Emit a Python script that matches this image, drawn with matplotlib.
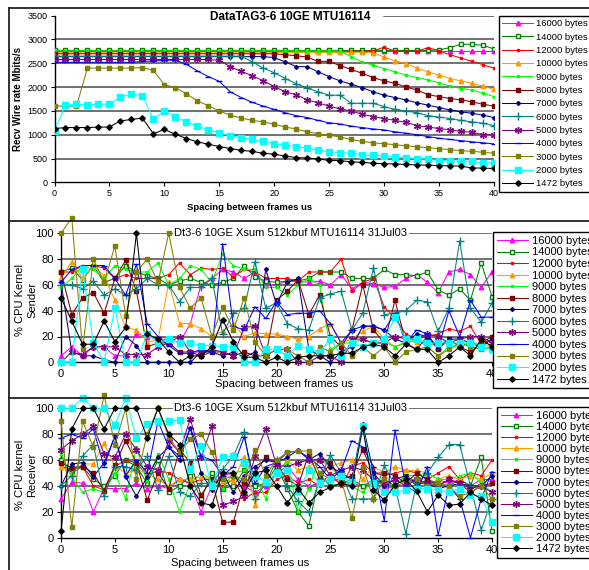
import matplotlib
matplotlib.use("Agg")
import matplotlib.pyplot as plt
from matplotlib.lines import Line2D

plt.rcParams['font.family'] = ['Liberation Sans', 'DejaVu Sans']

#___Data___#
spacing = list(range(41))
labels = ["16000 bytes", "14000 bytes", "12000 bytes", "10000 bytes", "9000 bytes", "8000 bytes",
          "7000 bytes", "6000 bytes", "5000 bytes", "4000 bytes", "3000 bytes", "2000 bytes", "1472 bytes"]

# Recv wire rate Mbit/s
rate_16000 = [2760, 2760, 2760, 2760, 2760, 2760, 2760, 2760, 2760, 2760,
              2760, 2760, 2760, 2760, 2760, 2760, 2760, 2760, 2760, 2760,
              2760, 2760, 2760, 2760, 2760, 2760, 2760, 2760, 2760, 2760,
              2760, 2760, 2760, 2760, 2760, 2760, 2760, 2760, 2760, 2760, 2760]
rate_14000 = [2770, 2770, 2770, 2770, 2770, 2770, 2770, 2770, 2770, 2770,
              2770, 2770, 2770, 2770, 2770, 2770, 2770, 2770, 2770, 2770,
              2770, 2770, 2770, 2770, 2770, 2770, 2770, 2770, 2770, 2770,
              2770, 2770, 2770, 2770, 2770, 2780, 2830, 2900, 2900, 2880, 2800]
rate_12000 = [2750, 2750, 2750, 2750, 2750, 2750, 2750, 2750, 2750, 2750,
              2750, 2750, 2750, 2750, 2750, 2750, 2750, 2750, 2750, 2750,
              2750, 2750, 2750, 2750, 2750, 2750, 2750, 2750, 2750, 2760,
              2840, 2750, 2750, 2750, 2830, 2760, 2680, 2610, 2540, 2470, 2400]
rate_10000 = [2730, 2730, 2730, 2730, 2730, 2730, 2730, 2730, 2730, 2730,
              2730, 2730, 2730, 2730, 2730, 2730, 2730, 2730, 2730, 2730,
              2730, 2730, 2730, 2730, 2730, 2730, 2730, 2730, 2730, 2720,
              2630, 2550, 2490, 2400, 2320, 2250, 2180, 2130, 2080, 2020, 1950]
rate_9000 = [2760, 2760, 2760, 2760, 2760, 2760, 2760, 2760, 2760, 2760,
             2760, 2760, 2760, 2760, 2760, 2760, 2760, 2760, 2760, 2760,
             2760, 2760, 2760, 2760, 2760, 2760, 2760, 2640, 2530, 2460,
             2390, 2320, 2250, 2200, 2150, 2090, 2020, 1970, 1940, 1870, 1800]
rate_8000 = [2700, 2700, 2700, 2700, 2700, 2700, 2700, 2700, 2700, 2700,
             2700, 2700, 2700, 2700, 2700, 2700, 2700, 2700, 2700, 2700,
             2700, 2680, 2660, 2630, 2540, 2540, 2450, 2370, 2290, 2200,
             2130, 2080, 2000, 1940, 1840, 1800, 1760, 1730, 1690, 1640, 1600]
rate_7000 = [2640, 2640, 2640, 2640, 2640, 2640, 2640, 2640, 2640, 2640,
             2640, 2640, 2640, 2640, 2640, 2640, 2640, 2640, 2640, 2640,
             2620, 2530, 2430, 2430, 2320, 2220, 2130, 2060, 1990, 1900,
             1830, 1780, 1730, 1670, 1620, 1570, 1520, 1480, 1450, 1410, 1360]
rate_6000 = [2650, 2650, 2650, 2650, 2650, 2650, 2650, 2650, 2650, 2650,
             2650, 2650, 2650, 2650, 2650, 2650, 2650, 2650, 2530, 2400,
             2300, 2180, 2070, 1980, 1900, 1830, 1830, 1660, 1660, 1660,
             1590, 1530, 1500, 1460, 1400, 1370, 1340, 1300, 1270, 1240, 1190]
rate_5000 = [2580, 2580, 2580, 2580, 2580, 2580, 2580, 2580, 2580, 2580,
             2580, 2580, 2580, 2580, 2580, 2560, 2430, 2330, 2240, 2130,
             2010, 1900, 1840, 1730, 1670, 1600, 1540, 1500, 1430, 1380,
             1340, 1300, 1260, 1190, 1160, 1130, 1100, 1070, 1050, 1000, 995]
rate_4000 = [2520, 2520, 2520, 2520, 2520, 2520, 2520, 2520, 2540, 2550,
             2560, 2570, 2480, 2340, 2220, 2120, 1900, 1780, 1680, 1600,
             1530, 1460, 1400, 1360, 1300, 1250, 1225, 1180, 1150, 1120,
             1100, 1060, 1030, 1000, 960, 925, 900, 875, 850, 830, 805]
rate_3000 = [1600, 1600, 1600, 2400, 2400, 2400, 2400, 2400, 2410, 2350,
             2050, 1990, 1860, 1710, 1610, 1500, 1410, 1350, 1300, 1270,
             1220, 1160, 1120, 1060, 1020, 990, 950, 900, 860, 830,
             810, 790, 765, 745, 725, 705, 685, 665, 650, 630, 610]
rate_2000 = [1080, 1620, 1640, 1620, 1640, 1640, 1800, 1850, 1820, 1320,
             1500, 1370, 1270, 1180, 1100, 1040, 980, 940, 900, 860,
             810, 780, 750, 720, 680, 640, 625, 610, 580, 565,
             550, 540, 515, 500, 490, 455, 450, 445, 440, 410, 405]
rate_1472 = [1130, 1150, 1150, 1150, 1160, 1160, 1290, 1320, 1350, 1020,
             1110, 1010, 920, 850, 800, 750, 710, 670, 650, 610,
             590, 550, 520, 510, 490, 460, 455, 430, 420, 400,
             390, 385, 375, 365, 360, 350, 345, 340, 300, 300, 290]

# % CPU kernel, sender
send_16000 = [5, 12, 5, 12, 12, 5, 5, 22, 20, 18, 18, 15, 30, 60, 65, 72, 70, 65, 70, 60, 60,
              63, 63, 62, 63, 60, 68, 57, 62, 61, 58, 59, 65, 68, 62, 54, 70, 72, 68, 58, 70]
send_14000 = [70, 73, 64, 75, 62, 65, 75, 70, 67, 65, 60, 63, 65, 62, 60, 62, 65, 75, 66, 63, 62,
              63, 63, 65, 70, 70, 70, 65, 65, 65, 72, 68, 68, 67, 70, 56, 52, 57, 48, 77, 51]
send_12000 = [70, 70, 75, 75, 73, 65, 68, 65, 65, 65, 68, 77, 68, 73, 72, 73, 66, 72, 70, 65, 65,
              65, 63, 70, 70, 70, 80, 55, 62, 65, 43, 34, 22, 18, 20, 22, 26, 24, 28, 14, 18]
send_10000 = [65, 78, 65, 75, 67, 48, 27, 25, 16, 17, 62, 30, 30, 26, 20, 24, 30, 20, 23, 22, 22,
              20, 18, 20, 26, 30, 15, 18, 24, 28, 18, 12, 16, 16, 15, 12, 16, 14, 15, 14, 12]
send_9000 = [58, 65, 75, 72, 65, 75, 72, 70, 70, 77, 60, 65, 75, 72, 62, 84, 75, 72, 72, 58, 58,
             52, 60, 65, 60, 10, 15, 15, 18, 14, 16, 12, 15, 18, 12, 5, 12, 12, 15, 12, 10]
send_8000 = [70, 37, 50, 54, 38, 65, 79, 55, 12, 15, 15, 8, 8, 5, 8, 8, 5, 8, 5, 5, 48,
             55, 64, 37, 52, 20, 12, 25, 60, 25, 15, 48, 15, 10, 20, 10, 18, 12, 8, 15, 20]
send_7000 = [62, 8, 5, 5, 2, 0, 20, 13, 0, 0, 0, 0, 0, 8, 8, 5, 8, 4, 8, 72, 45,
             62, 65, 10, 5, 0, 8, 12, 28, 28, 25, 18, 15, 22, 20, 12, 18, 18, 15, 12, 18]
send_6000 = [60, 60, 57, 63, 52, 57, 52, 57, 65, 60, 60, 47, 58, 58, 65, 22, 38, 42, 78, 42, 46,
             30, 26, 25, 50, 53, 55, 25, 38, 73, 37, 38, 40, 48, 47, 24, 42, 94, 42, 31, 46]
send_5000 = [0, 8, 6, 12, 12, 12, 6, 6, 6, 12, 15, 20, 8, 8, 10, 8, 5, 27, 28, 5, 10,
             10, 0, 0, 5, 5, 0, 18, 18, 15, 15, 20, 18, 18, 22, 20, 15, 18, 20, 20, 15]
send_4000 = [62, 72, 75, 75, 75, 65, 52, 76, 30, 20, 13, 7, 7, 10, 8, 92, 28, 25, 43, 34, 47,
             37, 38, 38, 40, 30, 15, 25, 28, 28, 25, 38, 15, 25, 22, 10, 40, 20, 48, 35, 35]
send_3000 = [100, 112, 10, 80, 62, 90, 36, 70, 80, 62, 100, 58, 42, 50, 20, 43, 25, 50, 16, 5, 10,
             10, 5, 0, 12, 8, 15, 5, 12, 5, 12, 0, 8, 10, 12, 5, 10, 15, 12, 10, 12]
send_2000 = [0, 0, 72, 15, 0, 42, 0, 0, 22, 15, 18, 15, 15, 13, 13, 12, 12, 0, 0, 10, 10,
             5, 13, 10, 8, 18, 5, 15, 12, 15, 18, 35, 18, 18, 15, 15, 15, 15, 15, 12, 10]
send_1472 = [50, 32, 14, 14, 32, 16, 27, 100, 22, 18, 8, 0, 5, 5, 12, 33, 16, 4, 4, 0, 4,
             0, 4, 5, 5, 5, 7, 7, 12, 14, 12, 5, 14, 10, 10, 0, 5, 12, 5, 18, 12]

# % CPU kernel, receiver
recv_16000 = [30, 43, 42, 20, 38, 38, 38, 42, 38, 40, 38, 45, 42, 20, 40, 48, 50, 40, 35, 40, 50,
              55, 45, 40, 42, 45, 43, 42, 40, 45, 40, 38, 42, 45, 40, 45, 42, 45, 40, 45, 45]
recv_14000 = [60, 50, 55, 45, 40, 48, 60, 55, 42, 60, 35, 40, 48, 30, 50, 38, 40, 52, 40, 42, 55,
              38, 20, 9, 48, 40, 42, 45, 40, 42, 45, 40, 48, 40, 45, 42, 40, 45, 40, 62, 5]
recv_12000 = [55, 53, 55, 40, 37, 55, 60, 58, 48, 52, 50, 45, 42, 45, 45, 40, 45, 30, 35, 35, 45,
              48, 42, 45, 40, 50, 40, 55, 58, 50, 48, 50, 52, 50, 45, 50, 55, 45, 50, 48, 60]
recv_10000 = [55, 50, 57, 57, 73, 55, 50, 52, 50, 45, 40, 45, 45, 47, 45, 44, 44, 62, 25, 48, 50,
              60, 52, 55, 60, 55, 58, 60, 45, 55, 50, 55, 52, 52, 50, 45, 48, 45, 48, 45, 50]
recv_9000 = [65, 47, 35, 38, 35, 50, 30, 70, 43, 65, 45, 20, 42, 50, 45, 38, 50, 52, 48, 30, 52,
             58, 20, 38, 62, 55, 45, 40, 35, 45, 42, 40, 48, 48, 50, 45, 45, 48, 50, 42, 35]
recv_8000 = [58, 54, 55, 50, 36, 56, 75, 58, 29, 50, 38, 68, 58, 33, 45, 12, 12, 42, 50, 62, 58,
             45, 40, 65, 45, 58, 45, 48, 68, 50, 50, 48, 42, 50, 45, 40, 45, 42, 35, 40, 42]
recv_7000 = [40, 57, 58, 47, 58, 78, 47, 32, 47, 62, 70, 60, 85, 50, 37, 50, 35, 48, 55, 60, 58,
             62, 68, 60, 65, 55, 50, 45, 88, 50, 40, 45, 48, 42, 42, 38, 40, 42, 40, 40, 48]
recv_6000 = [40, 48, 63, 72, 32, 55, 55, 52, 63, 37, 63, 35, 32, 42, 42, 53, 63, 82, 30, 42, 60,
             40, 28, 20, 45, 64, 50, 30, 30, 30, 56, 40, 3, 42, 50, 62, 72, 72, 40, 6, 30]
recv_5000 = [68, 75, 80, 86, 65, 62, 80, 68, 55, 52, 75, 66, 92, 62, 86, 25, 28, 32, 63, 84, 56,
             55, 58, 60, 60, 48, 52, 55, 52, 45, 42, 45, 40, 45, 42, 40, 45, 42, 38, 40, 35]
recv_4000 = [77, 80, 77, 84, 55, 79, 48, 60, 50, 90, 70, 63, 85, 63, 60, 48, 55, 78, 42, 55, 58,
             66, 67, 62, 55, 45, 52, 75, 70, 55, 13, 83, 40, 35, 55, 2, 40, 30, 0, 30, 51]
recv_3000 = [90, 8, 90, 70, 110, 72, 100, 45, 80, 100, 78, 66, 76, 80, 66, 45, 48, 45, 68, 48, 60,
             66, 67, 67, 50, 45, 45, 15, 55, 30, 45, 38, 45, 45, 40, 42, 40, 32, 35, 40, 30]
recv_2000 = [100, 100, 108, 100, 100, 87, 108, 77, 88, 90, 90, 91, 53, 71, 40, 62, 63, 58, 48, 43, 50,
             52, 36, 52, 42, 45, 48, 43, 86, 42, 35, 35, 37, 38, 38, 37, 35, 38, 33, 32, 12]
recv_1472 = [5, 84, 100, 100, 84, 100, 100, 100, 77, 100, 80, 72, 40, 27, 25, 50, 50, 35, 50, 52, 40,
             27, 38, 27, 35, 39, 42, 40, 85, 37, 29, 41, 45, 36, 20, 33, 25, 26, 35, 30, 25]

rate_series = [rate_16000, rate_14000, rate_12000, rate_10000, rate_9000, rate_8000, rate_7000,
               rate_6000, rate_5000, rate_4000, rate_3000, rate_2000, rate_1472]
send_series = [send_16000, send_14000, send_12000, send_10000, send_9000, send_8000, send_7000,
               send_6000, send_5000, send_4000, send_3000, send_2000, send_1472]
recv_series = [recv_16000, recv_14000, recv_12000, recv_10000, recv_9000, recv_8000, recv_7000,
               recv_6000, recv_5000, recv_4000, recv_3000, recv_2000, recv_1472]

#___Styles___#
# (colour, marker, size, face)
styles = [("#FF00FF", "^", 3.2, None),
          ("#008000", "s", 2.8, "white"),
          ("#FF0000", "s", 2.0, None),
          ("#FF9900", "^", 3.2, None),
          ("#00FF00", "s", 2.0, None),
          ("#800000", "s", 3.2, None),
          ("#000080", "D", 2.0, None),
          ("#008080", "+", 6, None),
          ("#800080", (6, 2, 0), 5, None),
          ("#0000FF", "_", 4, None),
          ("#808000", "s", 2.8, None),
          ("#00FFFF", "s", 4.2, None),
          ("#000000", "D", 2.8, None)]

W, H = 589, 570
fig = plt.figure(figsize=(W / 100, H / 100), dpi=100)


def fx(px):
    return px / W


def fy(py):
    return 1 - py / H


def draw_panel(ax, data, ymax, ystep, clip, top_from=0.0):
    handles = []
    for vals, (col, mk, ms, face) in zip(data, styles):
        h, = ax.plot(spacing, vals, color=col, lw=0.75, marker=mk, ms=ms,
                     mfc=face if face else col, mec=col, mew=1.0, clip_on=clip, zorder=3)
        handles.append(h)
    ax.set_xlim(0, 40)
    ax.set_ylim(0, ymax)
    ax.set_xticks(range(0, 41, 5))
    ax.set_yticks(range(0, ymax + 1, ystep))
    for v in range(ystep, ymax + 1, ystep):
        ax.axhline(v, xmin=top_from if v == ymax else 0, color="#4a4a4a", lw=1.1, zorder=1)
    for s in ["top", "right"]:
        ax.spines[s].set_visible(False)
    ax.spines["left"].set_linewidth(1.0)
    ax.spines["bottom"].set_linewidth(1.0)
    ax.tick_params(direction="out", length=3, width=0.8, pad=2)
    return handles


#___Panel_1___#
ax1 = fig.add_axes([fx(54.5), fy(182.3), fx(494 - 54.5), fy(15.7) - fy(182.3)])
h1 = draw_panel(ax1, rate_series, 3500, 500, True, top_from=0.75)
ax1.tick_params(labelsize=6.5)
ax1.set_ylabel("Recv Wire rate Mbits/s", fontsize=7, fontweight="bold", labelpad=3)
fig.text(fx(250), fy(208), "Spacing between frames us", fontsize=6.8, fontweight="bold",
         ha="center", va="center")
fig.text(fx(290), fy(17), "DataTAG3-6 10GE MTU16114", fontsize=8.5, fontweight="bold",
         ha="center", va="center", bbox=dict(facecolor="white", edgecolor="none", pad=1.5), zorder=6)
fig.legend(h1, labels, loc="upper left", bbox_to_anchor=(fx(499), fy(16)), fontsize=6.8,
           frameon=True, fancybox=False, edgecolor="black", framealpha=1, borderaxespad=0,
           borderpad=0.35, labelspacing=0.46, handlelength=3.3, handletextpad=0.3)

#___Panel_2___#
ax2 = fig.add_axes([fx(61), fy(362.3), fx(492 - 61), fy(233.3) - fy(362.3)])
h2 = draw_panel(ax2, send_series, 100, 20, False)
ax2.tick_params(labelsize=8)
fig.text(fx(20), fy(300), "% CPU Kernel", fontsize=8, rotation=90, ha="center", va="center")
fig.text(fx(32), fy(300), "Sender", fontsize=8, rotation=90, ha="center", va="center")
fig.text(fx(284), fy(384), "Spacing between frames us", fontsize=8, ha="center", va="center")
fig.text(fx(291), fy(233), "Dt3-6 10GE Xsum 512kbuf MTU16114 31Jul03", fontsize=8,
         ha="center", va="center", bbox=dict(facecolor="white", edgecolor="none", pad=1), zorder=6)
fig.legend(h2, labels, loc="upper left", bbox_to_anchor=(fx(493), fy(232)), fontsize=8,
           frameon=True, fancybox=False, edgecolor="black", framealpha=1, borderaxespad=0,
           borderpad=0.35, labelspacing=0.14, handlelength=2.8, handletextpad=0.4)

#___Panel_3___#
ax3 = fig.add_axes([fx(61), fy(537.7), fx(492 - 61), fy(408.3) - fy(537.7)])
h3 = draw_panel(ax3, recv_series, 100, 20, False)
ax3.tick_params(labelsize=8)
fig.text(fx(20), fy(475), "% CPU kernel", fontsize=8, rotation=90, ha="center", va="center")
fig.text(fx(32), fy(475), "Receiver", fontsize=8, rotation=90, ha="center", va="center")
fig.text(fx(240), fy(563), "Spacing between frames us", fontsize=8, ha="center", va="center")
fig.text(fx(291), fy(408), "Dt3-6 10GE Xsum 512kbuf MTU16114 31Jul03", fontsize=8,
         ha="center", va="center", bbox=dict(facecolor="white", edgecolor="none", pad=1), zorder=6)
fig.legend(h3, labels, loc="upper left", bbox_to_anchor=(fx(497), fy(407)), fontsize=8,
           frameon=True, fancybox=False, edgecolor="black", framealpha=1, borderaxespad=0,
           borderpad=0.35, labelspacing=0.1, handlelength=2.8, handletextpad=0.4)

#___Frames___#
for line in [([fx(9), fx(9)], [fy(8), fy(570)]),
             ([fx(9), fx(589)], [fy(8), fy(8)]),
             ([fx(9), fx(589)], [fy(221), fy(221)]),
             ([fx(9), fx(589)], [fy(398), fy(398)])]:
    fig.add_artist(Line2D(line[0], line[1], color="#222222", lw=1.3, zorder=7))

fig.savefig("out.png", dpi=100)
